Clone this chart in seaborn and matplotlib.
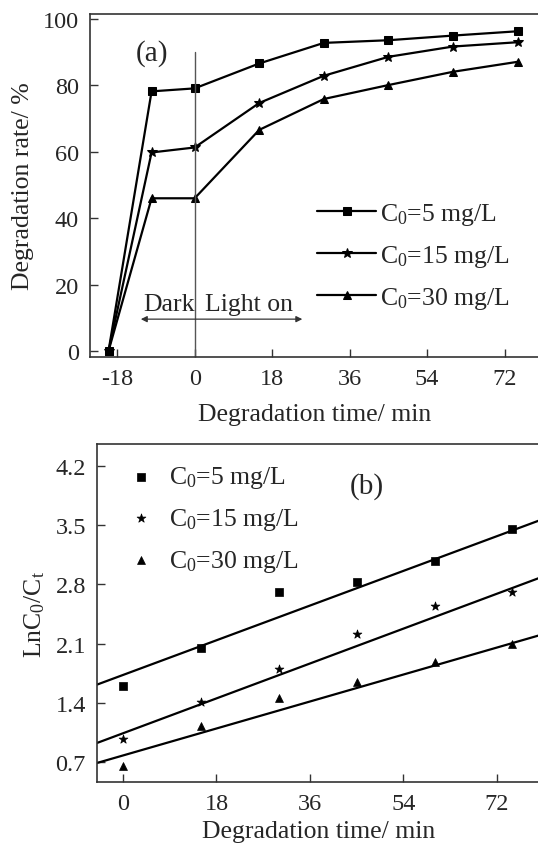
import numpy as np
import pandas as pd
import matplotlib
matplotlib.use("Agg")
import matplotlib.pyplot as plt
import seaborn as sns

sns.set_theme(style="white")
plt.rcParams['font.family'] = ['Liberation Serif', 'DejaVu Serif']
plt.rcParams['mathtext.fontset'] = 'custom'
plt.rcParams['mathtext.rm'] = 'Liberation Serif'
plt.rcParams['mathtext.it'] = 'Liberation Serif'

# ---------- data ----------
labels = [r'$\mathregular{C_0}$=5 mg/L', r'$\mathregular{C_0}$=15 mg/L', r'$\mathregular{C_0}$=30 mg/L']
time_a = [-20, -10, 0, 15, 30, 45, 60, 75]
rate_5 = [0, 78.2, 79.1, 86.6, 92.8, 93.6, 95.0, 96.3]
rate_15 = [0, 59.8, 61.3, 74.7, 82.9, 88.6, 91.7, 93.0]
rate_30 = [0, 46.0, 46.0, 66.6, 75.9, 80.1, 84.1, 87.1]

time_b = [0, 15, 30, 45, 60, 75]
ln_5 = [1.60, 2.05, 2.71, 2.83, 3.07, 3.45]
ln_15 = [0.975, 1.41, 1.80, 2.21, 2.55, 2.71]
ln_30 = [0.65, 1.125, 1.456, 1.645, 1.888, 2.09]

fit_slope = [0.02275, 0.02287, 0.01769]
fit_intercept = [1.730, 1.042, 0.780]

xticks_a = [-18, 0, 18, 36, 54, 72]
yticks_a = [0, 20, 40, 60, 80, 100]
xticks_b = [0, 18, 36, 54, 72]
yticks_b = [0.7, 1.4, 2.1, 2.8, 3.5, 4.2]

markers = ['s', '*', '^']
msizes = [6, 7, 6]

df_a = pd.DataFrame({
    'time': time_a * 3,
    'rate': rate_5 + rate_15 + rate_30,
    'series': [labels[0]] * len(time_a) + [labels[1]] * len(time_a) + [labels[2]] * len(time_a),
})
df_b = pd.DataFrame({
    'time': time_b * 3,
    'ln': ln_5 + ln_15 + ln_30,
    'series': [labels[0]] * len(time_b) + [labels[1]] * len(time_b) + [labels[2]] * len(time_b),
})

FS_T = 17.5
FS = 18.5
spine_c = '#333333'

fig = plt.figure(figsize=(5.38, 8.45), dpi=100)
ax1 = fig.add_axes([90/538, (845-358)/845, 450/538, 343/845])
ax2 = fig.add_axes([97/538, (845-783)/845, 443/538, 338/845])

# ---------- panel (a) ----------
for i, lab in enumerate(labels):
    sub = df_a[df_a['series'] == lab]
    sns.lineplot(data=sub, x='time', y='rate', ax=ax1, color='black', lw=1.6,
                 marker=markers[i], markersize=msizes[i], markeredgecolor='black',
                 label=lab, legend=False)

ax1.set_xlim(-24.3, 80.2)
ax1.set_ylim(-1.8, 101.5)
ax1.set_xticks(xticks_a)
ax1.set_yticks(yticks_a)
ax1.set_xticklabels([str(t) for t in xticks_a])
ax1.axvline(0, ymin=0, ymax=(90.2 + 1.8) / 103.3, color='#555555', lw=1.0)
ax1.text(-9.8, 90, '(a)', fontsize=21, ha='center', va='center')
ax1.text(-12.0, 14.2, 'Dark', fontsize=FS, ha='left', va='center')
ax1.text(2.4, 14.2, 'Light on', fontsize=FS, ha='left', va='center')
ax1.annotate('', xy=(-12.5, 9.6), xytext=(25.0, 9.6),
             arrowprops=dict(arrowstyle='<|-|>', color='#333333', lw=0.9,
                             mutation_scale=9, shrinkA=0, shrinkB=0))
ax1.set_xlabel('Degradation time/ min', fontsize=FS, labelpad=10)
ax1.set_ylabel('Degradation rate/ %', fontsize=FS, labelpad=6)

h, l = ax1.get_legend_handles_labels()
ax1.legend(h, l, loc='upper left', bbox_to_anchor=(0.505, 0.455), frameon=False,
           fontsize=FS, handlelength=2.3, handletextpad=0.15, labelspacing=0.62,
           borderpad=0, borderaxespad=0)

# ---------- panel (b) ----------
for i, lab in enumerate(labels):
    sub = df_b[df_b['series'] == lab]
    sns.scatterplot(data=sub, x='time', y='ln', ax=ax2, color='black',
                    marker=markers[i], s=(msizes[i] ** 2) * 0.9, edgecolor='black',
                    linewidth=0.5, label=lab, legend=False)

xl_b = (-5, 80.3)
xs = np.array(xl_b)
for i in range(3):
    ax2.plot(xs, fit_intercept[i] + fit_slope[i] * xs, color='black', lw=1.6)

ax2.set_xlim(*xl_b)
ax2.set_ylim(0.467, 4.456)
ax2.set_xticks(xticks_b)
ax2.set_yticks(yticks_b)
ax2.set_yticklabels([f'{v:.1f}' for v in yticks_b])
ax2.text(47, 3.96, '(b)', fontsize=21, ha='center', va='center')
ax2.set_xlabel('Degradation time/ min', fontsize=FS, labelpad=4)
ax2.set_ylabel(r'Ln$\mathregular{C_0}$/$\mathregular{C_t}$', fontsize=FS, labelpad=6)

h, l = ax2.get_legend_handles_labels()
ax2.legend(h, l, loc='upper left', bbox_to_anchor=(0.07, 0.94), frameon=False,
           fontsize=FS, handlelength=1.0, handletextpad=0.6, labelspacing=0.62,
           borderpad=0, borderaxespad=0)

for ax in (ax1, ax2):
    for s in ax.spines.values():
        s.set_color(spine_c)
        s.set_linewidth(1.2)
    ax.spines['right'].set_visible(False)
    ax.tick_params(direction='in', length=6, width=1.0, color=spine_c,
                   labelsize=FS_T, pad=8, left=True, bottom=True, top=False, right=False)

fig.savefig('out.png', dpi=100)
